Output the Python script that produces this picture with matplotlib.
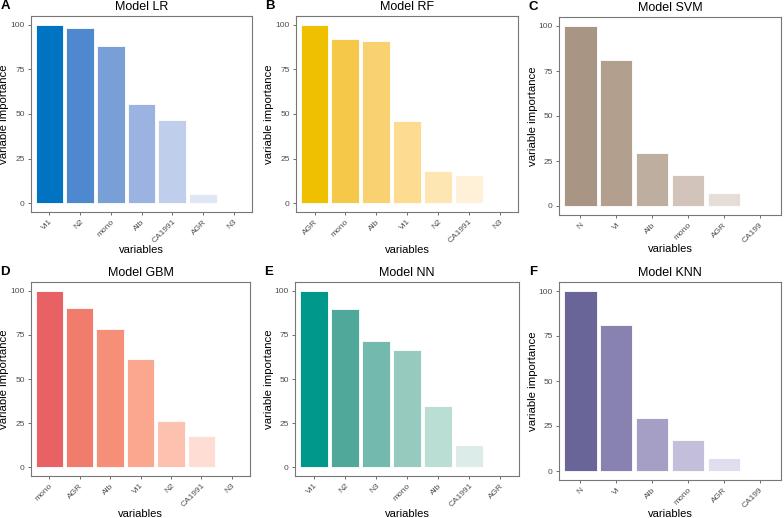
import matplotlib
matplotlib.use("Agg")
import matplotlib.pyplot as plt

# Data per model (variable importance, scaled 0-100)
lr_vars = ["Vi1", "N2", "mono", "Alb", "CA1991", "AGR", "N3"]
lr_vals = [100, 98.1, 88.4, 55.7, 46.9, 5.3, 0]
rf_vars = ["AGR", "mono", "Alb", "Vi1", "N2", "CA1991", "N3"]
rf_vals = [100, 91.9, 90.8, 46.2, 18.2, 15.6, 0]
svm_vars = ["N", "Vi", "Alb", "mono", "AGR", "CA199"]
svm_vals = [100, 81.1, 29.2, 17.3, 7.0, 0]
gbm_vars = ["mono", "AGR", "Alb", "Vi1", "N2", "CA1991", "N3"]
gbm_vals = [100, 90.4, 78.1, 61.4, 26.4, 17.4, 0]
nn_vars = ["Vi1", "N2", "N3", "mono", "Alb", "CA1991", "AGR"]
nn_vals = [100, 89.5, 71.7, 66.5, 34.5, 12.5, 0]
knn_vars = ["N", "Vi", "Alb", "mono", "AGR", "CA199"]
knn_vals = [100, 81.1, 29.2, 17.3, 7.0, 0]

lr_cols = ["#0073C2", "#4E88CF", "#789FD6", "#9BB3E0", "#BECEEB", "#DFE6F5", "#FFFFFF"]
rf_cols = ["#EFC000", "#F5C84A", "#F9D170", "#FDDB90", "#FEE6B3", "#FEF1D8", "#FFFFFF"]
svm_cols = ["#A89584", "#B29F8E", "#BEAE9F", "#D2C4BA", "#E6DDD8", "#FFFFFF"]
gbm_cols = ["#E76165", "#F07C6C", "#F68F77", "#FBA68F", "#FDC2AF", "#FEDED4", "#FFFFFF"]
nn_cols = ["#00988A", "#4FA89A", "#74B9AD", "#96CABE", "#BADDD4", "#DCEDE9", "#FFFFFF"]
knn_cols = ["#6A6599", "#8882B0", "#A59FC6", "#C3BFDA", "#E0DEEE", "#FFFFFF"]

panels = [
    ("A", "Model LR", lr_vars, lr_vals, lr_cols, (31, 252, 16, 212)),
    ("B", "Model RF", rf_vars, rf_vals, rf_cols, (296, 518, 16, 212)),
    ("C", "Model SVM", svm_vars, svm_vals, svm_cols, (559, 781, 17, 215)),
    ("D", "Model GBM", gbm_vars, gbm_vals, gbm_cols, (31, 250, 282, 476)),
    ("E", "Model NN", nn_vars, nn_vals, nn_cols, (295, 519, 282, 476)),
    ("F", "Model KNN", knn_vars, knn_vals, knn_cols, (559, 781, 282, 480)),
]

W, H = 784, 518
fig = plt.figure(figsize=(W / 100, H / 100), dpi=100)
plt.rcParams["font.family"] = ["Liberation Sans", "DejaVu Sans"]

for letter, title, vars_, vals, cols, (l, r, t, b) in panels:
    ax = fig.add_axes([l / W, 1 - b / H, (r - l) / W, (b - t) / H])
    x = range(len(vars_))
    ax.bar(x, vals, width=0.9, color=cols, edgecolor="white", linewidth=0.6)
    ax.set_xlim(-0.6, len(vars_) - 0.4)
    ax.set_ylim(-5, 105)
    ax.set_yticks([0, 25, 50, 75, 100])
    ax.set_xticks(list(x))
    ax.set_xticklabels(vars_, rotation=45, ha="right", va="top",
                       rotation_mode="anchor", fontsize=6, color="#4d4d4d")
    ax.tick_params(axis="y", labelsize=6, labelcolor="#4d4d4d", length=2.5,
                   width=0.5, color="#333333", pad=2)
    ax.tick_params(axis="x", length=2.5, width=0.5, color="#333333", pad=2)
    for s in ax.spines.values():
        s.set_color("#777777")
        s.set_linewidth(0.8)
    ax.set_title(title, fontsize=9, pad=4)
    ax.set_xlabel("variables", fontsize=8, labelpad=0)
    ax.set_ylabel("variable importance", fontsize=8.2)
    ax.yaxis.set_label_coords(-21.5 / (r - l), 0.5)
    fig.text(5 / W if l < 100 else (l - 26) / W, 1 - (t - 10) / H, letter,
             fontsize=9.5, fontweight="bold", ha="center", va="center")

fig.savefig("out.png", dpi=100)
